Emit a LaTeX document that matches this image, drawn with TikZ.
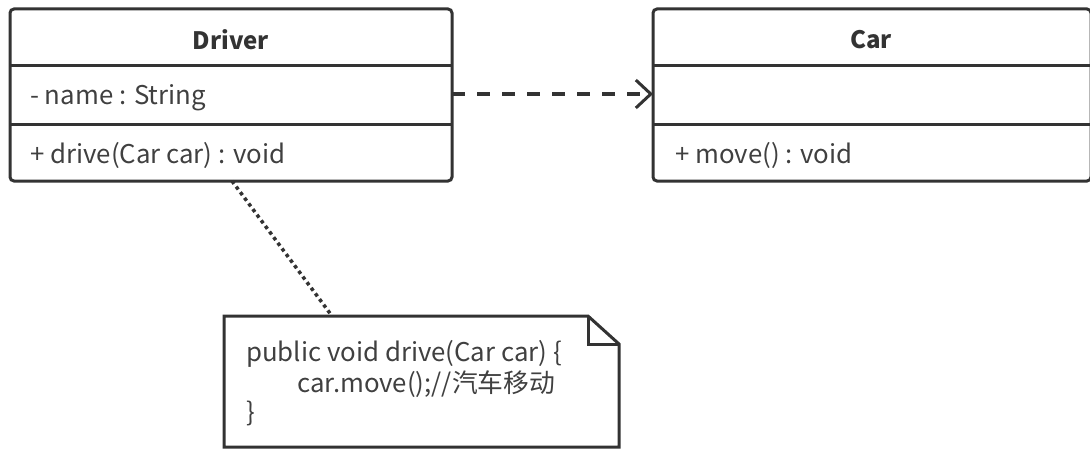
\documentclass[tikz,border=0pt]{standalone}
\usepackage{fontspec}
\setmainfont{Noto Sans CJK SC}
\usetikzlibrary{arrows.meta}
\definecolor{ln}{HTML}{333333}
\definecolor{tx}{HTML}{404040}
\tikzset{
  box/.style={draw=ln, line width=3pt, rounded corners=4pt},
  sep/.style={draw=ln, line width=3pt},
  lbl/.style={anchor=west, inner sep=0pt, text=tx, font=\fontsize{25.8}{30}\selectfont},
  ttl/.style={inner sep=0pt, text=ln, font=\fontsize{24}{30}\selectfont\bfseries},
}
\begin{document}
\begin{tikzpicture}[x=1pt,y=-1pt]
\useasboundingbox (0,0) rectangle (1090,452);
% Driver
\draw[box] (10,9) rectangle (452,181);
\draw[sep] (10,66) -- (452,66);
\draw[sep] (10,124) -- (452,124);
\node[ttl] (dt) at (231,40) {Driver};
\node[lbl] (da) at (30,98) {- name : String};
\node[lbl] (dm) at (30,155) {+ drive(Car car) : void};
\coordinate (dR) at (452,94);
\coordinate (dB) at (232,181);
% Car
\draw[box] (653,9) rectangle (1091,181);
\draw[sep] (653,66) -- (1091,66);
\draw[sep] (653,124) -- (1091,124);
\node[ttl] (ct) at (871,40) {Car};
\node[lbl] (cm) at (675,155) {+ move() : void};
\coordinate (cL) at (653,94);
% Note
\draw[draw=ln, line width=3pt, line join=miter]
  (224,316) -- (588,316) -- (619,344) -- (619,447) -- (224,447) -- cycle;
\draw[draw=ln, line width=3pt] (588,316) -- (588,344) -- (619,344);
\coordinate (nT) at (332,316);
\node[lbl, anchor=west] (n1) at (246,354) {public void drive(Car car) \{};
\node[lbl, anchor=west] (n2) at (297,384) {car.move();//汽车移动};
\node[lbl, anchor=west] (n3) at (246,413) {\}};
% connectors
\draw[draw=ln, line width=3pt, dash pattern=on 13pt off 12pt, -{Straight Barb[length=15pt,width=28pt,line width=3pt]}] (dR) -- (cL);
\draw[draw=ln, line width=3.5pt, dash pattern=on 3.5pt off 3.5pt] (dB) -- (nT);
\end{tikzpicture}
\end{document}
